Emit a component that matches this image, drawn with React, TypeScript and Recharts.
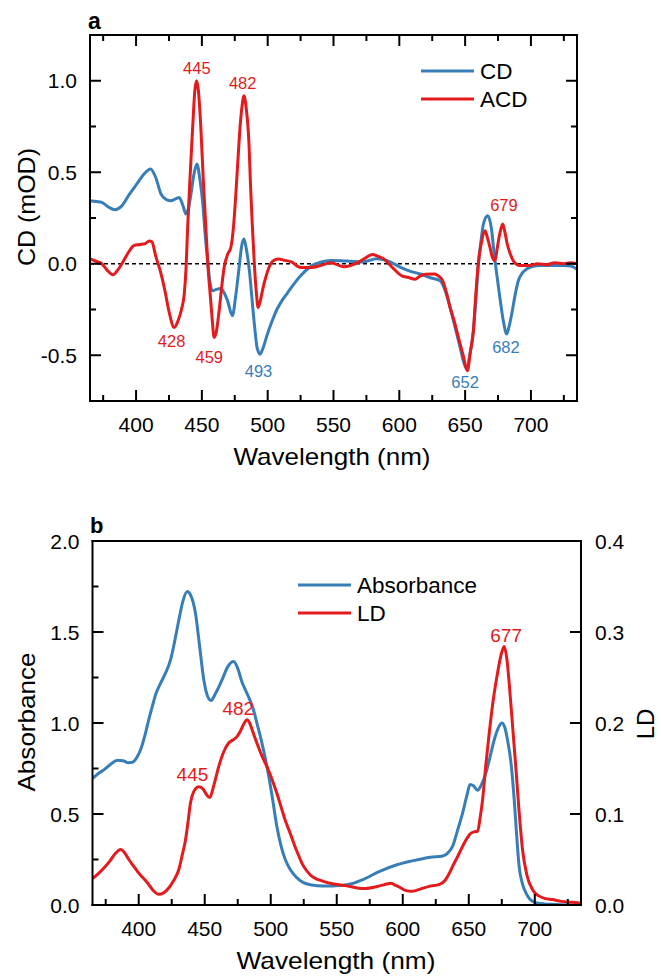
import React from "react";
import { LineChart, Line, XAxis, YAxis, ReferenceLine, ReferenceDot, Legend } from "recharts";

const BLUE = "#377eb8";
const RED = "#e41a1c";
const FONT = '"Liberation Sans", Arial, Helvetica, sans-serif';

// panel a: circular dichroism, [wavelength nm, mOD]
const cdSpectrum = [
  [365, 0.345], [370, 0.34], [374, 0.335], [379, 0.31], [384, 0.295], [389, 0.315], [395, 0.38],
  [401, 0.44], [406, 0.49], [411, 0.518], [415, 0.47], [419, 0.38], [423, 0.35], [426.5, 0.344],
  [430, 0.355], [432.8, 0.362], [435.5, 0.32], [437.9, 0.272], [440, 0.31], [441.7, 0.38],
  [444, 0.49], [446.2, 0.545], [448.5, 0.46], [450.5, 0.344], [452.5, 0.16], [454.3, 0.016],
  [456.3, -0.11], [458.1, -0.148], [461, -0.14], [464.4, -0.135], [467, -0.16], [469.4, -0.2],
  [473.2, -0.284], [475.8, -0.17], [478.3, -0.02], [480.3, 0.1], [482, 0.135], [483.8, 0.08],
  [485.8, -0.02], [489.6, -0.31], [492, -0.46], [494.2, -0.494], [496.5, -0.46], [499.8, -0.384],
  [503, -0.32], [507, -0.25], [511, -0.2], [515, -0.16], [520, -0.11], [525, -0.066], [530, -0.03],
  [535, -0.005], [540, 0.008], [548, 0.018], [560, 0.015], [572, 0.01], [583, 0.027], [593, 0.01],
  [601, -0.02], [608, -0.04], [615.9, -0.056], [623, -0.075], [631, -0.093], [635, -0.15],
  [638.6, -0.239], [642.5, -0.35], [646.2, -0.457], [649, -0.54], [651.3, -0.576], [653.5, -0.5],
  [656.3, -0.366], [658.3, -0.18], [660.1, 0.0], [662, 0.12], [663.9, 0.217], [667.2, 0.262],
  [670.2, 0.18], [672, 0.06], [674, -0.056], [676.5, -0.19], [679, -0.311], [681.6, -0.384],
  [683.5, -0.34], [685.4, -0.275], [688, -0.17], [690.4, -0.093], [693.5, -0.05], [696.7, -0.029],
  [701, -0.015], [706.8, -0.01], [715, -0.01], [725, -0.01], [730, -0.012], [735, -0.03],
];

const acdSpectrum = [
  [365, 0.027], [369, 0.015], [374, 0.0], [378, -0.035], [382.5, -0.06], [386, -0.035], [390, 0.01],
  [394, 0.06], [398.5, 0.1], [403, 0.105], [407, 0.11], [410, 0.125], [412, 0.12], [415, 0.04],
  [419, -0.055], [422, -0.15], [425, -0.26], [429, -0.348], [432, -0.31], [434.5, -0.25],
  [436.6, -0.166], [438, -0.02], [439.2, 0.2], [441, 0.47], [443, 0.745], [444.7, 0.95], [446, 1.0],
  [447.3, 0.95], [449.2, 0.745], [451, 0.47], [453, 0.2], [454.7, -0.02], [456.3, -0.166],
  [457.8, -0.3], [459.3, -0.403], [461, -0.37], [463.1, -0.257], [465, -0.13], [466.9, -0.02],
  [469.5, 0.05], [472, 0.089], [474, 0.2], [475.8, 0.38], [477.5, 0.58], [479, 0.745], [480.5, 0.86],
  [482, 0.918], [483.5, 0.86], [485.8, 0.654], [487, 0.42], [488.4, 0.2], [490, -0.02],
  [491.3, -0.15], [492.7, -0.239], [494.5, -0.2], [496.5, -0.13], [498.5, -0.075], [502.3, 0.0],
  [505, 0.02], [508.6, 0.026], [512, 0.02], [518, 0.01], [525, -0.02], [533, -0.02], [540, -0.01],
  [548, 0.005], [557.6, -0.016], [568, 0.005], [574, 0.03], [579.5, 0.05], [584, 0.04], [588, 0.027],
  [595.6, -0.027], [602, -0.066], [607, -0.075], [612, -0.085], [615.9, -0.066], [620, -0.058],
  [626, -0.056], [632.3, -0.084], [635.5, -0.15], [638.6, -0.239], [642, -0.32], [644.9, -0.403],
  [648.5, -0.5], [651.7, -0.585], [654, -0.48], [656.3, -0.366], [658, -0.18], [660, 0.0],
  [662.5, 0.12], [665.2, 0.18], [667, 0.14], [668.9, 0.089], [670.5, 0.04], [672.7, 0.016],
  [674.5, 0.09], [676.5, 0.17], [678.6, 0.217], [680.3, 0.17], [682, 0.108], [684.5, 0.05],
  [686.6, 0.016], [691.7, -0.01], [699, -0.01], [705, 0.0], [712, -0.005], [718, 0.005], [725, 0.0],
  [730, 0.005], [735, 0.0],
];

// panel b: absorbance (left axis) and linear dichroism (right axis)
const absSpectrum = [
  [365, 0.695], [369, 0.72], [373.8, 0.744], [379, 0.775], [383.9, 0.795], [388, 0.793], [392, 0.782],
  [395.2, 0.784], [398.5, 0.81], [401.5, 0.854], [405, 0.94], [408, 1.03], [410.3, 1.091], [413, 1.16],
  [416.6, 1.219], [420, 1.27], [424.1, 1.347], [427, 1.44], [430.4, 1.566], [433.5, 1.67],
  [436.7, 1.722], [439.5, 1.7], [443, 1.603], [446, 1.43], [449.3, 1.237], [452, 1.15], [454.8, 1.124],
  [458, 1.16], [463.1, 1.237], [467.5, 1.31], [471.9, 1.338], [475, 1.3], [478, 1.23], [480.7, 1.183],
  [484, 1.13], [487, 1.07], [489.5, 1.0], [493, 0.9], [497.1, 0.762], [501, 0.6], [504.6, 0.433],
  [508, 0.32], [511, 0.25], [514.7, 0.196], [519, 0.155], [524.7, 0.123], [531, 0.11], [539.8, 0.104],
  [548, 0.105], [555, 0.108], [562, 0.118], [570, 0.14], [582.5, 0.185], [595, 0.22], [604, 0.238],
  [612.7, 0.251], [621, 0.262], [630.3, 0.269], [634, 0.285], [637.8, 0.323], [641.5, 0.41],
  [645.4, 0.507], [648.5, 0.6], [651, 0.662], [653.5, 0.655], [656.7, 0.63], [659.5, 0.66],
  [663, 0.726], [666, 0.81], [669.3, 0.908], [672.5, 0.975], [675.1, 1.0], [677.3, 0.975],
  [679.3, 0.908], [682, 0.78], [684.4, 0.58], [686.3, 0.38], [688.1, 0.214], [690.5, 0.12],
  [693.2, 0.068], [696.5, 0.03], [700.7, 0.013], [707, 0.006], [713.3, 0.004], [720, 0.002], [735, 0.0],
];

const ldSpectrum = [
  [365, 0.029], [369, 0.034], [373.8, 0.041], [378, 0.048], [382, 0.056], [386.4, 0.061], [389, 0.058],
  [392.5, 0.05], [396, 0.043], [399, 0.037], [402.5, 0.031], [406.6, 0.0245], [411, 0.016],
  [415.3, 0.0117], [419, 0.0135], [422.9, 0.019], [426.5, 0.027], [430.4, 0.039], [433, 0.055],
  [435.5, 0.072], [437.5, 0.093], [439.2, 0.112], [441.5, 0.124], [445.5, 0.13], [449, 0.127],
  [451.5, 0.121], [453.8, 0.118], [457, 0.132], [460.6, 0.152], [464, 0.167], [468.1, 0.178],
  [471, 0.181], [474.4, 0.185], [477, 0.191], [480, 0.2], [482, 0.2036], [484, 0.2], [486.5, 0.19],
  [489.5, 0.178], [493, 0.165], [497.1, 0.152], [501, 0.138], [504.6, 0.123], [508, 0.107],
  [511, 0.093], [514.7, 0.079], [519, 0.062], [524.7, 0.043], [530, 0.033], [539.8, 0.026],
  [548, 0.023], [557.6, 0.021], [570, 0.018], [582.5, 0.021], [588, 0.023], [591, 0.024], [594, 0.022],
  [597.6, 0.0195], [602, 0.016], [606.5, 0.015], [612.7, 0.0172], [620, 0.0205], [627.8, 0.0227],
  [632, 0.027], [635, 0.034], [637.8, 0.0428], [641.5, 0.053], [645.4, 0.0647], [648.5, 0.073],
  [651.7, 0.079], [654.5, 0.0805], [656.7, 0.081], [658.5, 0.095], [660.5, 0.116], [663, 0.155],
  [665.5, 0.189], [668.5, 0.225], [671.8, 0.255], [674.5, 0.275], [676.8, 0.284], [678.8, 0.271],
  [680.6, 0.244], [683, 0.2], [685.6, 0.152], [688, 0.105], [690.7, 0.061], [694, 0.033],
  [698.2, 0.017], [703, 0.01], [708, 0.007], [713.3, 0.006], [720, 0.004], [728.4, 0.003], [735, 0.002],
];

const xDomain = [365, 735];
const xMajor = [400, 450, 500, 550, 600, 650, 700];
const xTicks = [375, 400, 425, 450, 475, 500, 525, 550, 575, 600, 625, 650, 675, 700, 725];
const cdDomain = [-0.75, 1.25];
const cdMajor = [-0.5, 0, 0.5, 1];
const cdTicks = [-0.5, -0.25, 0, 0.25, 0.5, 0.75, 1];
const absDomain = [0, 2];
const absMajor = [0, 0.5, 1, 1.5, 2];
const absTicks = [0, 0.25, 0.5, 0.75, 1, 1.25, 1.5, 1.75, 2];
const ldDomain = [0, 0.4];
const ldTicks = [0, 0.1, 0.2, 0.3, 0.4];

// peak annotations: label text, wavelength, value on that panel's axis
const peaksA = [
  { text: "445", wl: 446.2, v: 1.071, color: RED },
  { text: "482", wl: 481, v: 0.989, color: RED },
  { text: "428", wl: 427, v: -0.421, color: RED },
  { text: "459", wl: 455.6, v: -0.508, color: RED },
  { text: "493", wl: 493, v: -0.585, color: BLUE },
  { text: "652", wl: 650, v: -0.645, color: BLUE },
  { text: "682", wl: 681, v: -0.454, color: BLUE },
  { text: "679", wl: 679.5, v: 0.322, color: RED },
];
const peaksB = [
  { text: "482", wl: 475.4, v: 0.2167, color: RED },
  { text: "445", wl: 440.7, v: 0.1433, color: RED },
  { text: "677", wl: 678.3, v: 0.2968, color: RED },
];

const legendA = [
  { name: "CD", color: BLUE },
  { name: "ACD", color: RED },
];
const legendB = [
  { name: "Absorbance", color: BLUE },
  { name: "LD", color: RED },
];

const toPoints = (arr: number[][]) => arr.map(([x, y]) => ({ x, y }));
const fmt = (v: number) => v.toFixed(1);
const frame = { stroke: "#000", strokeWidth: 2, strokeLinecap: "square" as const };
const tickFont = { fontSize: 21, fontFamily: FONT, fill: "#000" };

const makeTick = (side: "bottom" | "top" | "left" | "right", majors: number[], labels: boolean) =>
  (p: any) => {
    const v = p.payload.value;
    const major = majors.includes(v);
    const len = major ? 11 : 6;
    const { x, y } = p;
    if (side === "bottom") {
      return (
        <g>
          <line x1={x} x2={x} y1={y} y2={y - len} stroke="#000" strokeWidth={2} />
          {labels && major && <text x={x} y={y + 31} textAnchor="middle" {...tickFont}>{v}</text>}
        </g>
      );
    }
    if (side === "top") {
      return <line x1={x} x2={x} y1={y} y2={y + len} stroke="#000" strokeWidth={2} />;
    }
    if (side === "left") {
      return (
        <g>
          <line x1={x} x2={x + len} y1={y} y2={y} stroke="#000" strokeWidth={2} />
          {labels && major && <text x={x - 13} y={y + 7.5} textAnchor="end" {...tickFont}>{fmt(v)}</text>}
        </g>
      );
    }
    return (
      <g>
        <line x1={x} x2={x - len} y1={y} y2={y} stroke="#000" strokeWidth={2} />
        {labels && major && <text x={x + 14} y={y + 7.5} textAnchor="start" {...tickFont}>{fmt(v)}</text>}
      </g>
    );
  };

const LegendBox = ({ items }: { items: { name: string; color: string }[] }) => (
  <svg width={220} height={64}>
    {items.map((it, i) => (
      <g key={it.name}>
        <line x1={1} x2={54} y1={16 + i * 28} y2={16 + i * 28} stroke={it.color} strokeWidth={3} />
        <text x={60} y={24 + i * 28} fontSize={22.5} fontFamily={FONT} fill="#000">{it.name}</text>
      </g>
    ))}
  </svg>
);

const peakLabel = (text: string, color: string, size: number) => (p: any) => (
  <text x={p.cx} y={p.cy} dy="0.36em" textAnchor="middle" fontSize={size} fontFamily={FONT} fill={color}>
    {text}
  </text>
);

const axisCommon = {
  tickLine: false,
  tickSize: 0,
  tickMargin: 0,
  interval: 0 as const,
  allowDataOverflow: true,
  axisLine: frame,
};

function PanelA() {
  return (
    <LineChart width={661} height={490} margin={{ top: 34, right: 0, bottom: 0, left: 0 }}>
      <XAxis xAxisId="b" type="number" dataKey="x" domain={xDomain} ticks={xTicks} height={89}
        tick={makeTick("bottom", xMajor, true)} {...axisCommon} />
      <XAxis xAxisId="t" orientation="top" type="number" dataKey="x" domain={xDomain} ticks={xTicks} height={1}
        tick={makeTick("top", xMajor, false)} {...axisCommon} />
      <YAxis yAxisId="l" type="number" domain={cdDomain} ticks={cdTicks} width={90}
        tick={makeTick("left", cdMajor, true)} {...axisCommon} />
      <YAxis yAxisId="r" orientation="right" type="number" domain={cdDomain} ticks={cdTicks} width={84}
        tick={makeTick("right", cdMajor, false)} {...axisCommon} />
      <ReferenceLine xAxisId="b" yAxisId="l" y={0} stroke="#000" strokeWidth={1.6} strokeDasharray="4 3" />
      <Line xAxisId="b" yAxisId="l" data={toPoints(cdSpectrum)} dataKey="y" name="CD" type="monotone"
        stroke={BLUE} strokeWidth={3} dot={false} isAnimationActive={false} />
      <Line xAxisId="b" yAxisId="l" data={toPoints(acdSpectrum)} dataKey="y" name="ACD" type="monotone"
        stroke={RED} strokeWidth={3} dot={false} isAnimationActive={false} />
      {peaksA.map((pk) => (
        <ReferenceDot key={pk.text + pk.wl} xAxisId="b" yAxisId="l" x={pk.wl} y={pk.v} r={1}
          ifOverflow="visible" shape={peakLabel(pk.text, pk.color, 16.5)} />
      ))}
      <Legend layout="horizontal" verticalAlign="middle" align="center"
        wrapperStyle={{ left: 420, top: 55, width: 220 }} content={() => <LegendBox items={legendA} />} />
    </LineChart>
  );
}

function PanelB() {
  return (
    <LineChart width={661} height={477} margin={{ top: 40, right: 0, bottom: 0, left: 0 }}>
      <XAxis xAxisId="b" type="number" dataKey="x" domain={xDomain} ticks={xTicks} height={72}
        tick={makeTick("bottom", xMajor, true)} {...axisCommon} />
      <XAxis xAxisId="t" orientation="top" type="number" dataKey="x" domain={xDomain} height={1}
        tick={false} {...axisCommon} />
      <YAxis yAxisId="l" type="number" domain={absDomain} ticks={absTicks} width={92.5}
        tick={makeTick("left", absMajor, true)} {...axisCommon} />
      <YAxis yAxisId="r" orientation="right" type="number" domain={ldDomain} ticks={ldTicks} width={80}
        tick={makeTick("right", ldTicks, true)} {...axisCommon} />
      <Line xAxisId="b" yAxisId="l" data={toPoints(absSpectrum)} dataKey="y" name="Absorbance" type="monotone"
        stroke={BLUE} strokeWidth={3} dot={false} isAnimationActive={false} />
      <Line xAxisId="b" yAxisId="r" data={toPoints(ldSpectrum)} dataKey="y" name="LD" type="monotone"
        stroke={RED} strokeWidth={3} dot={false} isAnimationActive={false} />
      {peaksB.map((pk) => (
        <ReferenceDot key={pk.text} xAxisId="b" yAxisId="r" x={pk.wl} y={pk.v} r={1}
          ifOverflow="visible" shape={peakLabel(pk.text, pk.color, 19)} />
      ))}
      <Legend layout="horizontal" verticalAlign="middle" align="center"
        wrapperStyle={{ left: 297, top: 69, width: 220 }} content={() => <LegendBox items={legendB} />} />
    </LineChart>
  );
}

export default function App() {
  const title = { fontSize: 24, fontFamily: FONT, fill: "#000" };
  return (
    <div style={{ position: "absolute", left: 0, top: 0, width: 661, height: 977, background: "#fff" }}>
      <div style={{ position: "absolute", left: 0, top: 0 }}>
        <PanelA />
      </div>
      <div style={{ position: "absolute", left: 0, top: 500 }}>
        <PanelB />
      </div>
      <svg width={661} height={977} style={{ position: "absolute", left: 0, top: 0, pointerEvents: "none" }}>
        <text x={88} y={29} fontSize={23} fontWeight="bold" fontFamily={FONT}>a</text>
        <text transform="translate(35,207) rotate(-90)" textAnchor="middle" textLength={118}
          lengthAdjust="spacingAndGlyphs" {...title}>CD (mOD)</text>
        <text x={332} y={465} textAnchor="middle" textLength={197} lengthAdjust="spacingAndGlyphs" {...title}>
          Wavelength (nm)
        </text>
        <text x={90} y={533} fontSize={22} fontWeight="bold" fontFamily={FONT}>b</text>
        <text transform="translate(35,722) rotate(-90)" textAnchor="middle" textLength={139}
          lengthAdjust="spacingAndGlyphs" {...title}>Absorbance</text>
        <text transform="translate(654,724) rotate(-90)" textAnchor="middle" {...title}>LD</text>
        <text x={336} y={969} textAnchor="middle" textLength={199} lengthAdjust="spacingAndGlyphs" {...title}>
          Wavelength (nm)
        </text>
      </svg>
    </div>
  );
}
